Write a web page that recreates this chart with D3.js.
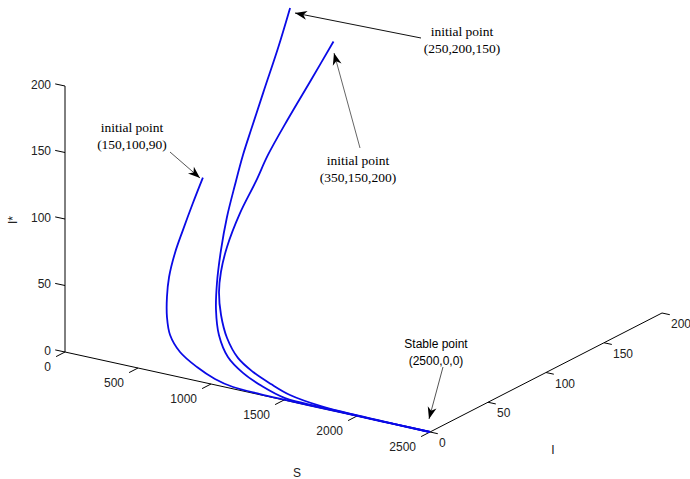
<!DOCTYPE html>
<html>
<head>
<meta charset="utf-8">
<script src="https://cdn.jsdelivr.net/npm/d3@7/dist/d3.min.js"></script>
<style>
  html, body { margin: 0; padding: 0; background: #fff; }
  svg { display: block; }
</style>
</head>
<body>
<svg id="chart" width="690" height="479"></svg>
<script>
// Trajectories of the system in (S, I, I*) space, each tending to the stable point (2500, 0, 0)
const trajectory1 = [
  [150, 100, 90], [189, 86.5, 77.9], [234, 72.2, 65.0], [275, 60.2, 54.2],
  [333, 47.8, 43.0], [398, 37.8, 34.0], [476, 28.0, 25.2], [564, 19.6, 17.6],
  [690, 12.3, 11.1], [850, 6.8, 6.1], [1004, 2.9, 2.6], [1144, 0.9, 0.8],
  [1333, 0.35, 0.3], [1492, 0.15, 0.15], [1750, 0.05, 0.05], [2000, 0.02, 0.02],
  [2250, 0.01, 0.01], [2500, 0, 0]
];
const trajectory2 = [
  [350, 150, 200], [397, 133.7, 178.3], [438, 116.5, 155.4], [475, 101.4, 135.2],
  [504, 90.0, 120.0], [545, 77.9, 103.8], [593, 65.0, 86.7], [656, 51.9, 69.2],
  [731, 39.0, 52.0], [807, 28.6, 38.2], [901, 19.3, 25.8], [1023, 11.7, 15.6],
  [1164, 6.9, 9.2], [1321, 3.5, 4.6], [1501, 0.8, 1.1], [1750, 0.4, 0.5],
  [2000, 0.15, 0.2], [2250, 0.05, 0.05], [2500, 0, 0]
];
const trajectory3 = [
  [250, 200, 150], [283, 176.5, 132.4], [315, 152.6, 114.5], [351, 130.8, 98.1],
  [393, 115.2, 86.4], [436, 96.0, 72.0], [505, 76.1, 57.1], [577, 61.8, 46.4],
  [652, 50.7, 38.1], [762, 38.6, 28.9], [897, 26.8, 20.1], [1047, 17.3, 13.0],
  [1197, 11.5, 8.6], [1355, 7.1, 5.3], [1514, 3.4, 2.6], [1750, 1.0, 0.8],
  [2000, 0.3, 0.25], [2250, 0.08, 0.06], [2500, 0, 0]
];

const sTicks = [0, 500, 1000, 1500, 2000, 2500];
const iTicks = [0, 50, 100, 150, 200];
const zTicks = [0, 50, 100, 150, 200];

const svg = d3.select("#chart");
svg.append("rect").attr("width", 690).attr("height", 479).attr("fill", "#fff");

// Oblique 3-D view: each axis contributes a screen offset through its own linear scales
const origin = [65, 352];
const sx = d3.scaleLinear().domain([0, 2500]).range([0, 365]);
const sy = d3.scaleLinear().domain([0, 2500]).range([0, 80]);
const ix = d3.scaleLinear().domain([0, 200]).range([0, 232]);
const iy = d3.scaleLinear().domain([0, 200]).range([0, -119]);
const zy = d3.scaleLinear().domain([0, 200]).range([0, -266]);

function project(s, i, z) {
  return [origin[0] + sx(s) + ix(i), origin[1] + sy(s) + iy(i) + zy(z)];
}

const axisG = svg.append("g").attr("stroke", "#000").attr("stroke-width", 1).attr("fill", "none");
function seg(a, b, g) {
  (g || axisG).append("line")
    .attr("x1", a[0]).attr("y1", a[1]).attr("x2", b[0]).attr("y2", b[1]);
}

// Axis lines
seg(project(0, 0, 0), project(0, 0, 200));
seg(project(0, 0, 0), project(2500, 0, 0));
seg(project(2500, 0, 0), project(2500, 200, 0));

const tickFont = "'Liberation Sans', Arial, sans-serif";
const labelG = svg.append("g")
  .attr("font-family", tickFont).attr("font-size", 12).attr("fill", "#222");

// I* ticks point along -S
zTicks.forEach(z => {
  const p = project(0, 0, z);
  seg(p, [p[0] - 9.8, p[1] - 2.1]);
  labelG.append("text").attr("x", 51).attr("y", p[1] - 1.5).attr("dy", "0.35em")
    .attr("text-anchor", "end").text(z);
});
// S ticks point along -I
sTicks.forEach(s => {
  const p = project(s, 0, 0);
  seg(p, [p[0] - 8.9, p[1] + 4.6]);
  labelG.append("text").attr("x", p[0] - 14).attr("y", p[1] + 15).attr("dy", "0.35em")
    .attr("text-anchor", "end").text(s);
});
// I ticks point along +S
iTicks.forEach(i => {
  const p = project(2500, i, 0);
  seg(p, [p[0] + 7.8, p[1] + 1.7]);
  labelG.append("text").attr("x", p[0] + 9).attr("y", p[1] + 11).attr("dy", "0.35em")
    .attr("text-anchor", "start").text(i);
});

// Axis titles
labelG.append("text").attr("transform", "translate(17,220) rotate(-90)")
  .attr("text-anchor", "middle").text("I*");
labelG.append("text").attr("x", 553).attr("y", 450).attr("dy", "0.35em")
  .attr("text-anchor", "middle").attr("fill", "#222").text("I");
labelG.append("text").attr("x", 297).attr("y", 477)
  .attr("text-anchor", "middle").text("S");

// Trajectories
const line = d3.line()
  .x(d => project(d[0], d[1], d[2])[0])
  .y(d => project(d[0], d[1], d[2])[1])
  .curve(d3.curveCatmullRom.alpha(0.5));

[trajectory1, trajectory2, trajectory3].forEach(t => {
  svg.append("path").datum(t).attr("d", line)
    .attr("fill", "none").attr("stroke", "#0a0ae6")
    .attr("stroke-width", 1.8).attr("stroke-linejoin", "round");
});

// Annotations with arrows
function arrow(from, to, color) {
  svg.append("line").attr("x1", from[0]).attr("y1", from[1])
    .attr("x2", to[0]).attr("y2", to[1])
    .attr("stroke", color).attr("stroke-width", 1);
  const ang = Math.atan2(to[1] - from[1], to[0] - from[0]) * 180 / Math.PI;
  svg.append("path").attr("d", "M0,0 L-12,-4.5 L-8.5,0 L-12,4.5 Z")
    .attr("fill", "#000")
    .attr("transform", `translate(${to[0]},${to[1]}) rotate(${ang})`);
}

const serif = "'Liberation Serif', 'Times New Roman', serif";
function note(x, y, lines, font, size) {
  const t = svg.append("text").attr("font-family", font).attr("font-size", size)
    .attr("fill", "#000").attr("text-anchor", "middle");
  lines.forEach((l, k) => t.append("tspan").attr("x", x).attr("y", y + k * 16.5).text(l));
}

note(462, 36, ["initial point", "(250,200,150)"], serif, 13.5);
arrow([421, 38], [295, 13], "#111");

note(358, 165, ["initial point", "(350,150,200)"], serif, 13.5);
arrow([360, 148], [334, 53], "#666");

note(132, 132, ["initial point", "(150,100,90)"], serif, 13.5);
arrow([170, 152], [200, 178], "#555");

note(436, 348, ["Stable point", "(2500,0,0)"], tickFont, 12);
arrow([443, 367], [429, 419], "#555");
</script>
</body>
</html>
